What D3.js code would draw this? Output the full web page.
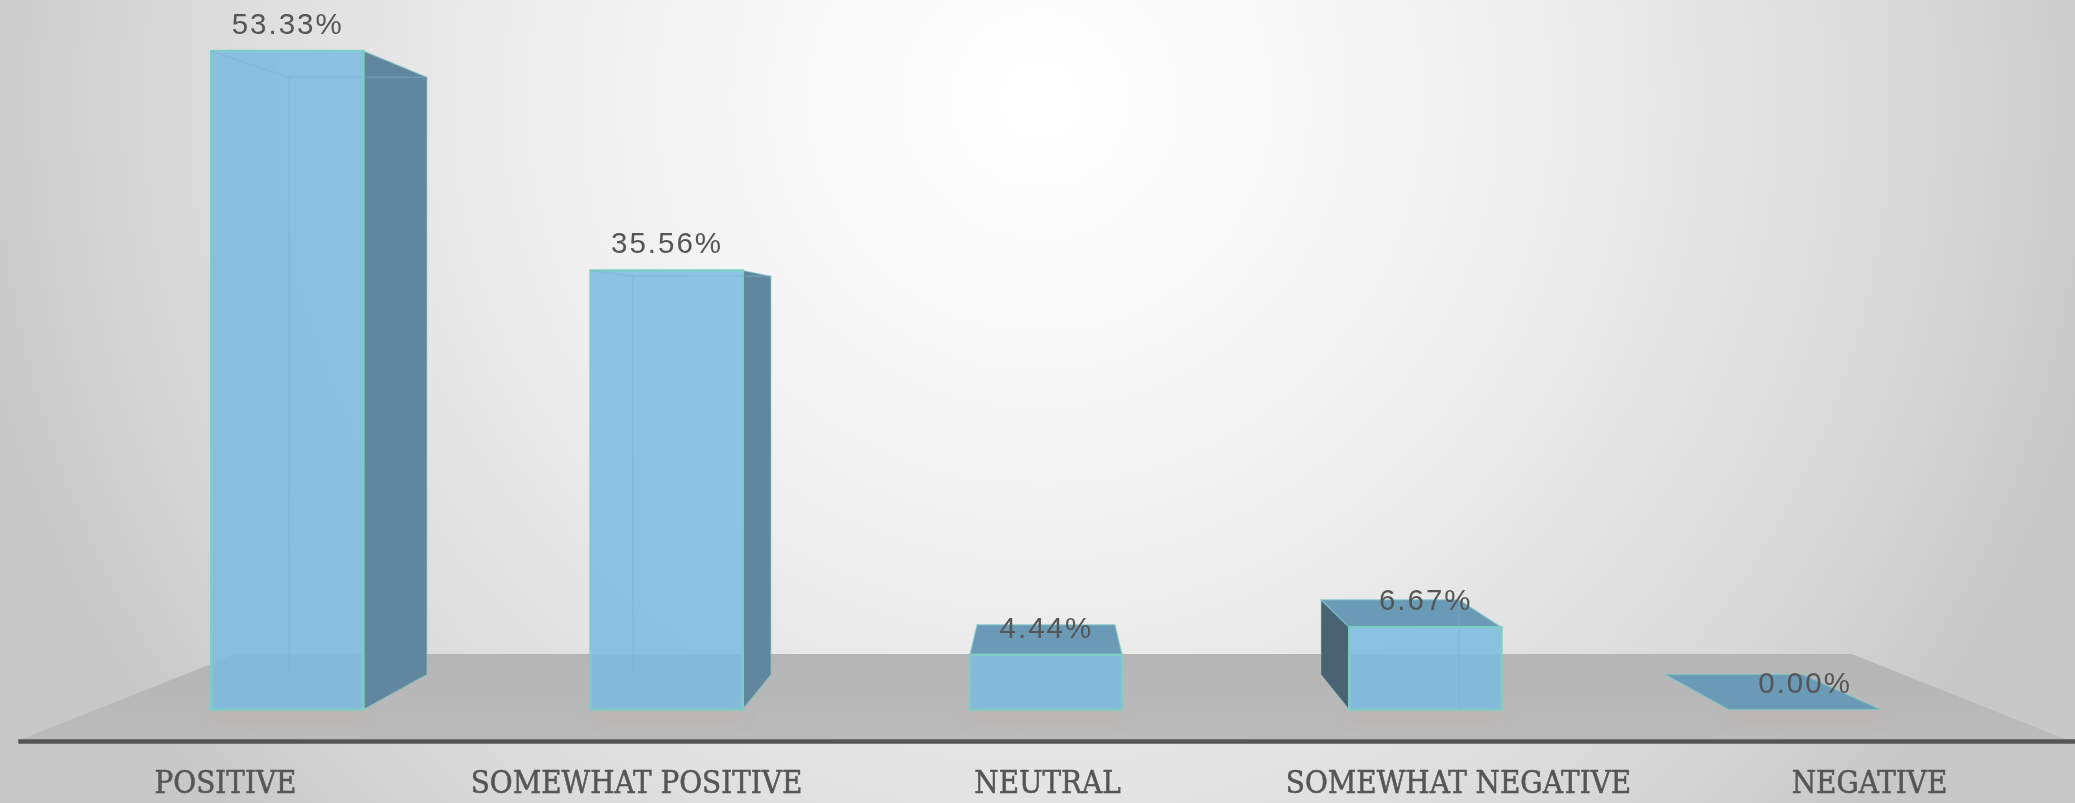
<!DOCTYPE html>
<html><head><meta charset="utf-8">
<script src="https://cdnjs.cloudflare.com/ajax/libs/d3/7.8.5/d3.min.js"></script>
<style>html,body{margin:0;padding:0;overflow:hidden;background:#ddd}svg{display:block}</style>
</head><body><div id="chart"></div>
<script>
const categories = ["POSITIVE","SOMEWHAT POSITIVE","NEUTRAL","SOMEWHAT NEGATIVE","NEGATIVE"];
const seriesValues = [53.33,35.56,4.44,6.67,0.00];
const valueLabels = ["53.33%","35.56%","4.44%","6.67%","0.00%"];

const W=2075,H=803,axisY=741;
const svg=d3.select("#chart").append("svg").attr("width",W).attr("height",H);
const defs=svg.append("defs");
const bg=defs.append("radialGradient").attr("id","bg").attr("gradientUnits","userSpaceOnUse")
  .attr("cx",1040).attr("cy",100).attr("r",1080);
[[0,"#ffffff"],[0.2,"#f9f9f9"],[0.43,"#f0f0f0"],[0.7,"#e0e0e0"],[0.85,"#d6d6d6"],[1,"#c8c8c8"]].forEach(s=>bg.append("stop").attr("offset",s[0]).attr("stop-color",s[1]));
const fl=defs.append("linearGradient").attr("id","floor").attr("x1",0).attr("x2",0).attr("y1",0).attr("y2",1);
fl.append("stop").attr("offset",0).attr("stop-color","#b5b5b5");
fl.append("stop").attr("offset",1).attr("stop-color","#bbbbbb");
const soft=defs.append("filter").attr("id","soft").attr("x","-5%").attr("y","-5%").attr("width","110%").attr("height","110%");
soft.append("feGaussianBlur").attr("stdDeviation",0.7);
const textSoft=defs.append("filter").attr("id","textSoft").attr("x","-5%").attr("y","-20%").attr("width","110%").attr("height","140%");
textSoft.append("feGaussianBlur").attr("stdDeviation",0.45);
const shadow=defs.append("filter").attr("id","shadow").attr("x","-20%").attr("y","-50%").attr("width","140%").attr("height","200%");
shadow.append("feGaussianBlur").attr("stdDeviation",6);

svg.append("rect").attr("width",W).attr("height",H).attr("fill","url(#bg)");

// scales
const x=d3.scaleBand().domain(categories).range([20,2075]);
const y=d3.scaleLinear().domain([0,60]).range([axisY,axisY-60*13.38]);

// perspective
const vx=1046,vy=333,kFront=0.923,kBack=0.837,kFloor=0.787;
const P=(wx,wy,k)=>[vx+k*(wx-vx),vy+k*(wy-vy)];
const line=d3.line();
const poly=pts=>line(pts)+"Z";

// floor
svg.append("path").attr("d",poly([P(17,axisY,1),P(17,axisY,kFloor),P(2070,axisY,kFloor),P(2070,axisY,1)])).attr("fill","url(#floor)");

const halfW=x.bandwidth()*0.2005;
const edge="#7fcdc6";
const seam="#79b0d2";
const g=svg.append("g").attr("filter","url(#soft)");

categories.forEach((c,i)=>{
  const cx=x(c)+x.bandwidth()/2-1.5, xl=cx-halfW, xr=cx+halfW;
  const v=seriesValues[i], yt=y(v), yb=y(0);
  const fTL=P(xl,yt,kFront),fTR=P(xr,yt,kFront),fBL=P(xl,yb,kFront),fBR=P(xr,yb,kFront);
  const bTL=P(xl,yt,kBack),bTR=P(xr,yt,kBack),bBL=P(xl,yb,kBack),bBR=P(xr,yb,kBack);
  g.append("rect").attr("x",fBL[0]).attr("y",fBL[1]).attr("width",fBR[0]-fBL[0]).attr("height",14)
    .attr("fill","#c2b4b4").attr("opacity",0.55).attr("filter","url(#shadow)");
  const topVisible=fTL[1]>vy;
  if(v>0){
    if(fBR[0]<vx) g.append("path").attr("d",poly([fTR,bTR,bBR,fBR])).attr("fill","#60879f").attr("stroke",edge).attr("stroke-opacity",.45).attr("stroke-width",1.5);
    if(fBL[0]>vx) g.append("path").attr("d",poly([fTL,bTL,bBL,fBL])).attr("fill","#486472").attr("stroke",edge).attr("stroke-opacity",.35).attr("stroke-width",1);
  }
  if(topVisible){
    g.append("path").attr("d",poly([fTL,fTR,bTR,bTL])).attr("fill","#6b9ab6").attr("stroke",edge).attr("stroke-opacity",.55).attr("stroke-width",1.5);
  }
  if(v>0){
    g.append("path").attr("d",poly([fTL,fTR,fBR,fBL])).attr("fill","#7abae2").attr("fill-opacity",0.85).attr("stroke",edge).attr("stroke-width",2.5);
    if(!topVisible){
      g.append("path").attr("d",line([fTL,bTL,bBL])).attr("fill","none").attr("stroke",seam).attr("stroke-opacity",.45).attr("stroke-width",1.5);
      g.append("path").attr("d",line([bTL,bTR])).attr("fill","none").attr("stroke",seam).attr("stroke-opacity",.45).attr("stroke-width",1.5);
    } else if(fBL[0]>vx){
      g.append("path").attr("d",line([bTR,[bTR[0],fBR[1]]])).attr("fill","none").attr("stroke",seam).attr("stroke-opacity",.35).attr("stroke-width",1.5);
    }
  }
});

// axis
const axis=d3.axisBottom(x).tickSize(0).tickSizeOuter(0);
const ag=svg.append("g").attr("transform",`translate(0,${axisY})`).call(axis);
ag.select(".domain").attr("stroke","#565656").attr("stroke-width",4.5).attr("stroke-linecap","square");
ag.selectAll("text").attr("y",52).attr("dy",0).attr("fill","#555")
  .attr("font-family","'DejaVu Serif Condensed','DejaVu Serif',serif").attr("font-size",31)
  .attr("stroke","#555").attr("stroke-width",0.5).attr("filter","url(#textSoft)");

// data labels
svg.append("g").selectAll("text").data(categories).join("text")
  .attr("x",c=>P(x(c)+x.bandwidth()/2,0,kFront)[0]-1)
  .attr("y",(c,i)=>P(0,y(seriesValues[i]),kFront)[1]-17)
  .attr("text-anchor","middle").attr("fill","#555").attr("filter","url(#textSoft)")
  .attr("font-family","'Liberation Sans',Arial,sans-serif").attr("font-size",29.5).attr("letter-spacing",2)
  .text((c,i)=>valueLabels[i]);
</script></body></html>
